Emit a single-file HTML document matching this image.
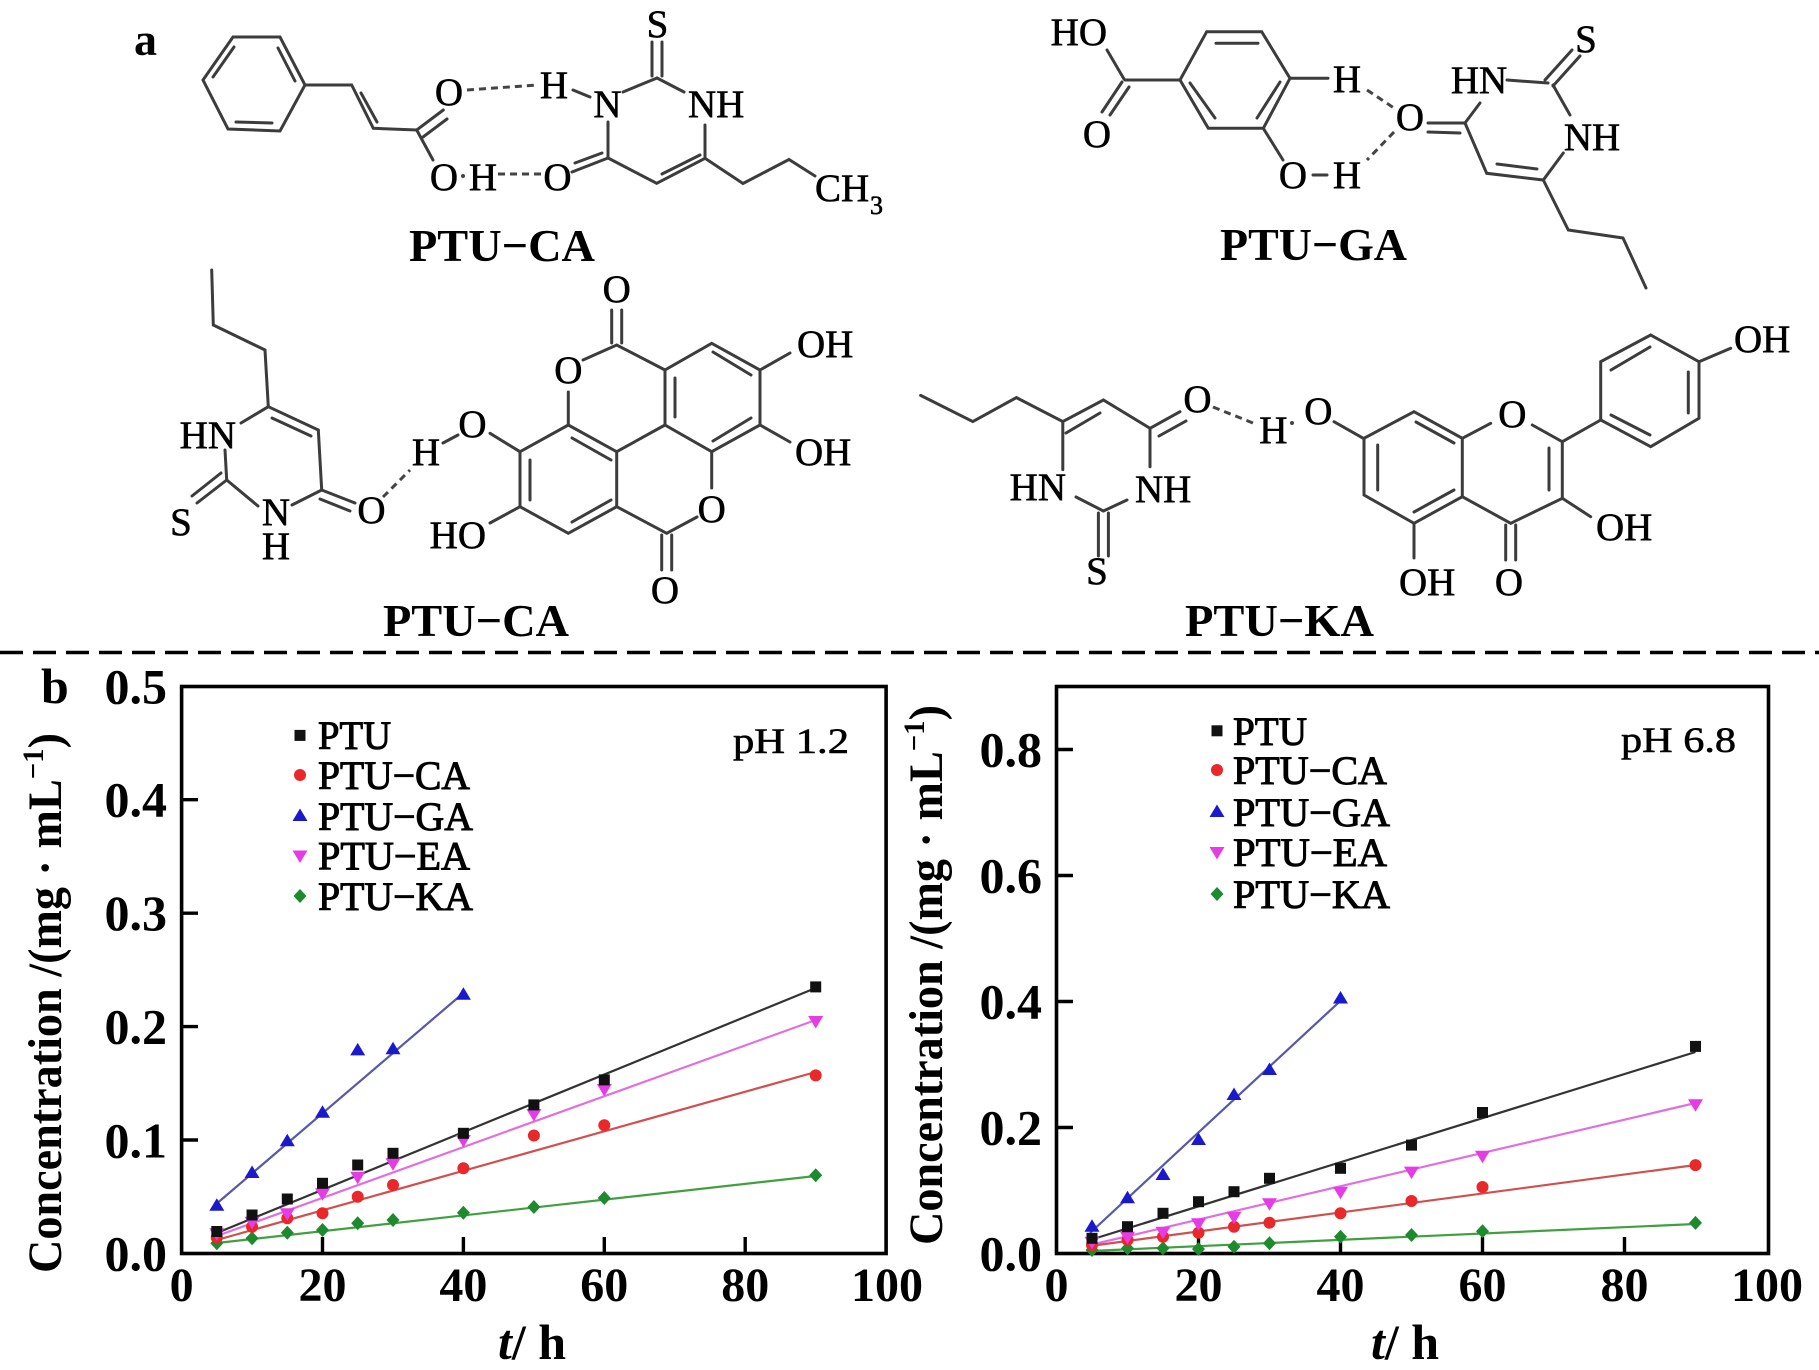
<!DOCTYPE html>
<html><head><meta charset="utf-8">
<style>
html,body{margin:0;padding:0;background:#fff;}
svg{display:block;}
.at{font-family:"Liberation Serif",serif;font-size:39px;fill:#000;stroke:#000;stroke-width:0.6;}
.lbl{font-family:"Liberation Serif",serif;font-size:46px;font-weight:bold;fill:#000;}
.b{stroke:#3c3c3c;stroke-width:3;fill:none;stroke-linecap:round;}
.hb{stroke:#444;stroke-width:3;fill:none;stroke-dasharray:7 5;}
.tk{font-family:"Liberation Serif",serif;font-weight:bold;fill:#000;}
.lg{font-family:"Liberation Serif",serif;font-size:40px;fill:#000;stroke:#000;stroke-width:1;}
.ph{font-family:"Liberation Serif",serif;font-size:36px;fill:#000;stroke:#000;stroke-width:0.6;}
</style></head>
<body>
<svg width="1819" height="1370" viewBox="0 0 1819 1370" xmlns="http://www.w3.org/2000/svg">
<rect x="0" y="0" width="1819" height="1370" fill="#fff"/>
<defs>
<rect id="msq" x="-5.5" y="-5.5" width="11" height="11"/>
<circle id="mci" cx="0" cy="0" r="6"/>
<polygon id="mtu" points="0,-7.5 7.5,5 -7.5,5"/>
<polygon id="mtd" points="-7.5,-5 7.5,-5 0,7.5"/>
<polygon id="mdi" points="0,-7 6.5,0 0,7 -6.5,0"/>
</defs>

<text x="134" y="55" font-family="Liberation Serif" font-weight="bold" font-size="46">a</text>
<text x="41" y="703" font-family="Liberation Serif" font-weight="bold" font-size="50">b</text>

<!-- ===== PTU-CA (top left) ===== -->
<g>
<polygon class="b" points="233,37 280,37 305,85 280,131 228,129 203,80"/>
<line class="b" x1="213" y1="77" x2="234" y2="47"/>
<line class="b" x1="278" y1="48" x2="295" y2="81"/>
<line class="b" x1="272" y1="123" x2="236" y2="122"/>
<polyline class="b" points="305,85 351.7,85 373.3,128.3 416.7,130 443.3,110"/>
<line class="b" x1="361" y1="93" x2="377" y2="122"/>
<line class="b" x1="423" y1="137" x2="447" y2="119"/>
<line class="b" x1="416.7" y1="130" x2="433" y2="160"/>
<text class="at" x="449" y="105" text-anchor="middle">O</text>
<text class="at" x="444" y="190" text-anchor="middle">O</text>
<circle cx="463" cy="176" r="2" fill="#444"/>
<text class="at" x="483" y="190" text-anchor="middle">H</text>
<line class="hb" x1="498" y1="174" x2="542" y2="174"/>
<line class="hb" x1="467" y1="90" x2="537" y2="85"/>
<text class="at" x="554" y="98" text-anchor="middle">H</text>
<line class="b" x1="573" y1="90" x2="590" y2="97"/>
<text class="at" x="607.5" y="117" text-anchor="middle">N</text>
<text class="at" x="657.5" y="37" text-anchor="middle">S</text>
<line class="b" x1="652" y1="42" x2="652" y2="76"/>
<line class="b" x1="662" y1="42" x2="662" y2="76"/>
<line class="b" x1="623" y1="92" x2="657" y2="78"/>
<line class="b" x1="657" y1="78" x2="684" y2="92"/>
<text class="at" x="688" y="117">NH</text>
<line class="b" x1="608" y1="122" x2="608" y2="158"/>
<text class="at" x="557.5" y="190" text-anchor="middle">O</text>
<line class="b" x1="572" y1="172" x2="608" y2="158"/>
<line class="b" x1="575" y1="163" x2="602" y2="153"/>
<polyline class="b" points="608,158 656.7,183.3 705,158.3 705,125"/>
<line class="b" x1="662" y1="174" x2="700" y2="155"/>
<polyline class="b" points="705,158.3 743,183.5 789,159.5 815,176"/>
<text class="at" x="815" y="201">CH</text>
<text class="at" x="870" y="214" style="font-size:26px">3</text>
<text class="lbl" x="409" y="261" textLength="186" lengthAdjust="spacingAndGlyphs">PTU−CA</text>
</g>

<!-- ===== PTU-GA (top right) ===== -->
<g>
<text class="at" x="1107" y="45" text-anchor="end">HO</text>
<line class="b" x1="1107" y1="50" x2="1124" y2="79"/>
<line class="b" x1="1122" y1="82" x2="1102" y2="112"/>
<line class="b" x1="1129" y1="87" x2="1110" y2="115"/>
<text class="at" x="1097" y="147" text-anchor="middle">O</text>
<line class="b" x1="1125" y1="80" x2="1180" y2="80"/>
<polygon class="b" points="1180,80 1206.7,31.7 1261.7,31.7 1290,78.3 1263.3,128.3 1208.3,128.3"/>
<line class="b" x1="1216" y1="43.3" x2="1258" y2="43.3"/>
<line class="b" x1="1190" y1="83" x2="1215" y2="118"/>
<line class="b" x1="1280" y1="82" x2="1257" y2="118"/>
<line class="b" x1="1290" y1="78.3" x2="1328" y2="78.3"/>
<text class="at" x="1347" y="92" text-anchor="middle">H</text>
<line class="b" x1="1263.3" y1="128.3" x2="1283" y2="160"/>
<text class="at" x="1293" y="188" text-anchor="middle">O</text>
<line class="b" x1="1313" y1="175" x2="1327" y2="175"/>
<text class="at" x="1347" y="188" text-anchor="middle">H</text>
<line class="hb" x1="1367" y1="90" x2="1394" y2="108"/>
<line class="hb" x1="1394" y1="132" x2="1367" y2="160"/>
<text class="at" x="1410" y="130" text-anchor="middle">O</text>
<line class="b" x1="1428" y1="123" x2="1465" y2="123"/>
<line class="b" x1="1428" y1="132" x2="1460" y2="133"/>
<line class="b" x1="1465" y1="123" x2="1480" y2="103"/>
<text class="at" x="1479" y="93" text-anchor="middle">HN</text>
<line class="b" x1="1507" y1="80" x2="1548" y2="83"/>
<line class="b" x1="1545" y1="80" x2="1572" y2="50"/>
<line class="b" x1="1553" y1="86" x2="1580" y2="56"/>
<text class="at" x="1586" y="52" text-anchor="middle">S</text>
<line class="b" x1="1553" y1="85" x2="1570" y2="115"/>
<text class="at" x="1592" y="150" text-anchor="middle">NH</text>
<polyline class="b" points="1465,123 1486.7,173.3 1543.3,180 1563.3,153"/>
<line class="b" x1="1497" y1="164" x2="1537" y2="169"/>
<polyline class="b" points="1543.3,180 1568.3,230 1623,238 1646,288"/>
<text class="lbl" x="1220" y="260" textLength="187" lengthAdjust="spacingAndGlyphs">PTU−GA</text>
</g>

<!-- ===== PTU-EA (bottom left) ===== -->
<g>
<polyline class="b" points="211.7,270 213.3,325 265,350 268.3,406.7"/>
<text class="at" x="236" y="448" text-anchor="end">HN</text>
<line class="b" x1="268.3" y1="406.7" x2="241" y2="423"/>
<line class="b" x1="268.3" y1="406.7" x2="318.3" y2="430"/>
<line class="b" x1="272" y1="418" x2="311" y2="436"/>
<line class="b" x1="318.3" y1="430" x2="321.7" y2="490"/>
<line class="b" x1="321.7" y1="490" x2="355" y2="503"/>
<line class="b" x1="320" y1="499" x2="350" y2="511"/>
<text class="at" x="371.5" y="523" text-anchor="middle">O</text>
<line class="b" x1="321.7" y1="490" x2="292" y2="505"/>
<text class="at" x="276" y="525" text-anchor="middle">N</text>
<text class="at" x="276" y="559" text-anchor="middle">H</text>
<line class="b" x1="258" y1="506" x2="226.7" y2="480"/>
<line class="b" x1="226.7" y1="480" x2="225" y2="450"/>
<line class="b" x1="226.7" y1="480" x2="197" y2="503"/>
<line class="b" x1="221" y1="473" x2="192" y2="496"/>
<text class="at" x="181" y="535" text-anchor="middle">S</text>
<line class="hb" x1="383" y1="497" x2="410" y2="470"/>
<text class="at" x="426" y="465" text-anchor="middle">H</text>
<line class="b" x1="443" y1="443" x2="458" y2="435"/>
<text class="at" x="472.5" y="437" text-anchor="middle">O</text>
<line class="b" x1="490" y1="433.3" x2="520" y2="451.7"/>
<polygon class="b" points="568.3,425 616.7,451.7 616.7,506.7 568.3,533.3 520,506.7 520,451.7"/>
<line class="b" x1="572" y1="438" x2="611" y2="460"/>
<line class="b" x1="530" y1="460" x2="530" y2="500"/>
<line class="b" x1="572" y1="522" x2="611" y2="500"/>
<polygon class="b" points="665,425 665,370 711.7,343.3 760,370 760,425 711.7,451.7"/>
<line class="b" x1="675" y1="378" x2="675" y2="417"/>
<line class="b" x1="713" y1="352" x2="751" y2="375"/>
<line class="b" x1="751" y1="418" x2="713" y2="441"/>
<line class="b" x1="616.7" y1="451.7" x2="665" y2="425"/>
<line class="b" x1="568.3" y1="425" x2="568.3" y2="392"/>
<text class="at" x="568.3" y="383" text-anchor="middle">O</text>
<polyline class="b" points="583,360 616.7,345 665,370"/>
<line class="b" x1="611.7" y1="343" x2="611.7" y2="310"/>
<line class="b" x1="621.7" y1="343" x2="621.7" y2="310"/>
<text class="at" x="616.7" y="302" text-anchor="middle">O</text>
<line class="b" x1="711.7" y1="451.7" x2="711.7" y2="488"/>
<text class="at" x="711.7" y="522" text-anchor="middle">O</text>
<polyline class="b" points="697,517 666.7,533.3 616.7,506.7"/>
<line class="b" x1="661.7" y1="535" x2="661.7" y2="570"/>
<line class="b" x1="671.7" y1="535" x2="671.7" y2="570"/>
<text class="at" x="665" y="603" text-anchor="middle">O</text>
<line class="b" x1="760" y1="370" x2="790" y2="353"/>
<text class="at" x="797" y="357">OH</text>
<line class="b" x1="760" y1="425" x2="790" y2="442"/>
<text class="at" x="795" y="465">OH</text>
<line class="b" x1="520" y1="506.7" x2="490" y2="523"/>
<text class="at" x="486" y="548" text-anchor="end">HO</text>
<text class="lbl" x="383" y="636" textLength="186" lengthAdjust="spacingAndGlyphs">PTU−CA</text>
</g>

<!-- ===== PTU-KA (bottom right) ===== -->
<g>
<polyline class="b" points="920.6,395.4 972.8,421.6 1016.4,397.6 1062.8,421.6 1103.4,400 1150,428.3 1150,466.7"/>
<line class="b" x1="1066" y1="433" x2="1100" y2="413"/>
<line class="b" x1="1150" y1="428.3" x2="1180" y2="411.7"/>
<line class="b" x1="1159" y1="436" x2="1186" y2="421"/>
<text class="at" x="1197.5" y="412" text-anchor="middle">O</text>
<text class="at" x="1135" y="502">NH</text>
<line class="b" x1="1127" y1="500" x2="1103.4" y2="511"/>
<line class="b" x1="1103.4" y1="511" x2="1076" y2="497"/>
<text class="at" x="1066" y="500" text-anchor="end">HN</text>
<line class="b" x1="1062.8" y1="469.6" x2="1062.8" y2="421.6"/>
<line class="b" x1="1098.4" y1="513" x2="1098.4" y2="556"/>
<line class="b" x1="1108.4" y1="513" x2="1108.4" y2="556"/>
<text class="at" x="1097" y="584" text-anchor="middle">S</text>
<line class="hb" x1="1213" y1="407" x2="1253" y2="423"/>
<text class="at" x="1273.3" y="443" text-anchor="middle">H</text>
<circle cx="1292" cy="423" r="2" fill="#444"/>
<text class="at" x="1318.3" y="424" text-anchor="middle">O</text>
<line class="b" x1="1334" y1="421.7" x2="1363.3" y2="438.3"/>
<polygon class="b" points="1364,438.3 1414,411.7 1462.3,438.3 1462.3,496.7 1414,523.3 1364,495"/>
<line class="b" x1="1416" y1="422" x2="1454" y2="443"/>
<line class="b" x1="1377.7" y1="445" x2="1377.7" y2="490"/>
<line class="b" x1="1454" y1="490" x2="1414" y2="512"/>
<line class="b" x1="1462.3" y1="438.3" x2="1490.7" y2="423.3"/>
<text class="at" x="1512.3" y="427" text-anchor="middle">O</text>
<polyline class="b" points="1532.3,425 1562.3,441.7 1562.3,498.3 1510.7,523.3 1462.3,496.7"/>
<line class="b" x1="1549" y1="448" x2="1549" y2="490"/>
<line class="b" x1="1505.7" y1="525" x2="1505.7" y2="560"/>
<line class="b" x1="1515.7" y1="525" x2="1515.7" y2="560"/>
<text class="at" x="1509" y="595" text-anchor="middle">O</text>
<line class="b" x1="1562.3" y1="498.3" x2="1590.7" y2="516.7"/>
<text class="at" x="1596" y="540">OH</text>
<line class="b" x1="1414" y1="523.3" x2="1414" y2="558"/>
<text class="at" x="1399" y="595">OH</text>
<line class="b" x1="1562.3" y1="441.7" x2="1600.7" y2="420"/>
<polygon class="b" points="1600.7,420 1600.7,361.7 1650.7,335 1699,361.7 1699,418.3 1650.7,446.7"/>
<line class="b" x1="1611" y1="370" x2="1650" y2="347"/>
<line class="b" x1="1688.3" y1="372" x2="1688.3" y2="413"/>
<line class="b" x1="1650" y1="435" x2="1611" y2="415"/>
<line class="b" x1="1699" y1="361.7" x2="1730.7" y2="348.3"/>
<text class="at" x="1734" y="352">OH</text>
<text class="lbl" x="1185" y="636" textLength="189" lengthAdjust="spacingAndGlyphs">PTU−KA</text>
</g>

<line x1="0" y1="652.5" x2="1819" y2="652.5" stroke="#000" stroke-width="3.5" stroke-dasharray="23 10"/>

<!-- ===== LEFT CHART ===== -->
<g>
<rect x="181.6" y="686.5" width="704.5" height="567" fill="none" stroke="#000" stroke-width="3.6"/>
<g stroke="#000" stroke-width="3.4">
<line x1="181.6" y1="1140" x2="198" y2="1140"/>
<line x1="181.6" y1="1026.6" x2="198" y2="1026.6"/>
<line x1="181.6" y1="913.2" x2="198" y2="913.2"/>
<line x1="181.6" y1="799.7" x2="198" y2="799.7"/>
<line x1="322.5" y1="1253.5" x2="322.5" y2="1237"/>
<line x1="463.4" y1="1253.5" x2="463.4" y2="1237"/>
<line x1="604.3" y1="1253.5" x2="604.3" y2="1237"/>
<line x1="745.2" y1="1253.5" x2="745.2" y2="1237"/>
</g>
<g class="tk" font-size="50" text-anchor="end">
<text x="167" y="1270.5">0.0</text>
<text x="167" y="1157.5">0.1</text>
<text x="167" y="1043.6">0.2</text>
<text x="167" y="930">0.3</text>
<text x="167" y="816.7">0.4</text>
<text x="167" y="703.5">0.5</text>
</g>
<g class="tk" font-size="48" text-anchor="middle">
<text x="181.6" y="1301">0</text>
<text x="322.5" y="1301">20</text>
<text x="463.4" y="1301">40</text>
<text x="604.3" y="1301">60</text>
<text x="745.2" y="1301">80</text>
<text x="887" y="1301">100</text>
</g>
<text class="tk" x="532" y="1359" font-size="50" text-anchor="middle"><tspan font-style="italic">t</tspan>/ h</text>
<text class="tk" transform="translate(61,1003) rotate(-90)" font-size="48" text-anchor="middle" textLength="540" lengthAdjust="spacingAndGlyphs">Concentration /(mg · mL<tspan dy="-18" font-size="30">−1</tspan><tspan dy="18">)</tspan></text>
<text class="ph" x="733" y="753" textLength="116" lengthAdjust="spacingAndGlyphs">pH 1.2</text>
<use href="#msq" x="300" y="735.4" fill="#111"/>
<use href="#mci" x="300" y="775" fill="#e8282a"/>
<use href="#mtu" x="300" y="816" fill="#1a1acc"/>
<use href="#mtd" x="300" y="855.5" fill="#e63ce6"/>
<use href="#mdi" x="300" y="896" fill="#1e8a2e"/>
<text class="lg" x="318" y="749" textLength="73" lengthAdjust="spacingAndGlyphs">PTU</text>
<text class="lg" x="318" y="789" textLength="152" lengthAdjust="spacingAndGlyphs">PTU−CA</text>
<text class="lg" x="318" y="830" textLength="155" lengthAdjust="spacingAndGlyphs">PTU−GA</text>
<text class="lg" x="318" y="869.5" textLength="152" lengthAdjust="spacingAndGlyphs">PTU−EA</text>
<text class="lg" x="318" y="910" textLength="155" lengthAdjust="spacingAndGlyphs">PTU−KA</text>
<g stroke-width="2.2" fill="none">
<line x1="216.8" y1="1203.5" x2="463.4" y2="993" stroke="#5858a8"/>
<line x1="216.8" y1="1233" x2="815.7" y2="988" stroke="#333"/>
<line x1="216.8" y1="1236" x2="815.7" y2="1020" stroke="#e070e0"/>
<line x1="216.8" y1="1240" x2="815.7" y2="1072" stroke="#d05050"/>
<line x1="216.8" y1="1243" x2="815.7" y2="1176" stroke="#40a040"/>
</g>
<g fill="#1a1acc">
<use href="#mtu" x="216.8" y="1205.8"/><use href="#mtu" x="252.05" y="1173"/><use href="#mtu" x="287.3" y="1141.2"/><use href="#mtu" x="322.5" y="1112.8"/><use href="#mtu" x="357.7" y="1050.4"/><use href="#mtu" x="393" y="1049.3"/><use href="#mtu" x="463.4" y="994.8"/>
</g>
<g fill="#1e8a2e">
<use href="#mdi" x="216.8" y="1243.3"/><use href="#mdi" x="252.05" y="1238.3"/><use href="#mdi" x="287.3" y="1232.7"/><use href="#mdi" x="322.5" y="1230"/><use href="#mdi" x="357.7" y="1223.3"/><use href="#mdi" x="393" y="1220"/><use href="#mdi" x="463.4" y="1212.7"/><use href="#mdi" x="533.9" y="1207"/><use href="#mdi" x="604.3" y="1198"/><use href="#mdi" x="815.7" y="1175.2"/>
</g>
<g fill="#e8282a">
<use href="#mci" x="216.8" y="1237.6"/><use href="#mci" x="252.05" y="1226.7"/><use href="#mci" x="287.3" y="1218.3"/><use href="#mci" x="322.5" y="1213.3"/><use href="#mci" x="357.7" y="1196.7"/><use href="#mci" x="393" y="1185"/><use href="#mci" x="463.4" y="1168.3"/><use href="#mci" x="533.9" y="1135.5"/><use href="#mci" x="604.3" y="1125.3"/><use href="#mci" x="815.7" y="1075.4"/>
</g>
<g fill="#e63ce6">
<use href="#mtd" x="216.8" y="1233.3"/><use href="#mtd" x="252.05" y="1221.7"/><use href="#mtd" x="287.3" y="1213.3"/><use href="#mtd" x="322.5" y="1193.3"/><use href="#mtd" x="357.7" y="1176.7"/><use href="#mtd" x="393" y="1163.3"/><use href="#mtd" x="463.4" y="1140"/><use href="#mtd" x="533.9" y="1114"/><use href="#mtd" x="604.3" y="1089"/><use href="#mtd" x="815.7" y="1021"/>
</g>
<g fill="#111">
<use href="#msq" x="216.8" y="1231.5"/><use href="#msq" x="252.05" y="1215"/><use href="#msq" x="287.3" y="1199"/><use href="#msq" x="322.5" y="1183.3"/><use href="#msq" x="357.7" y="1165"/><use href="#msq" x="393" y="1153.3"/><use href="#msq" x="463.4" y="1133.3"/><use href="#msq" x="533.9" y="1104.9"/><use href="#msq" x="604.3" y="1079.9"/><use href="#msq" x="815.7" y="986.9"/>
</g>
</g>

<!-- ===== RIGHT CHART ===== -->
<g>
<rect x="1056.5" y="686.5" width="712" height="567" fill="none" stroke="#000" stroke-width="3.6"/>
<g stroke="#000" stroke-width="3.4">
<line x1="1056.5" y1="1127.5" x2="1073" y2="1127.5"/>
<line x1="1056.5" y1="1001.5" x2="1073" y2="1001.5"/>
<line x1="1056.5" y1="875.5" x2="1073" y2="875.5"/>
<line x1="1056.5" y1="749.5" x2="1073" y2="749.5"/>
<line x1="1198.5" y1="1253.5" x2="1198.5" y2="1237"/>
<line x1="1340.5" y1="1253.5" x2="1340.5" y2="1237"/>
<line x1="1482.5" y1="1253.5" x2="1482.5" y2="1237"/>
<line x1="1624.5" y1="1253.5" x2="1624.5" y2="1237"/>
</g>
<g class="tk" font-size="50" text-anchor="end">
<text x="1042" y="1270.5">0.0</text>
<text x="1042" y="1144.5">0.2</text>
<text x="1042" y="1018.5">0.4</text>
<text x="1042" y="892.5">0.6</text>
<text x="1042" y="766.5">0.8</text>
</g>
<g class="tk" font-size="48" text-anchor="middle">
<text x="1056.5" y="1301">0</text>
<text x="1198.5" y="1301">20</text>
<text x="1340.5" y="1301">40</text>
<text x="1482.5" y="1301">60</text>
<text x="1624.5" y="1301">80</text>
<text x="1767" y="1301">100</text>
</g>
<text class="tk" x="1405" y="1359" font-size="50" text-anchor="middle"><tspan font-style="italic">t</tspan>/ h</text>
<text class="tk" transform="translate(942,975) rotate(-90)" font-size="48" text-anchor="middle" textLength="540" lengthAdjust="spacingAndGlyphs">Concentration /(mg · mL<tspan dy="-18" font-size="30">−1</tspan><tspan dy="18">)</tspan></text>
<text class="ph" x="1621" y="752" textLength="115" lengthAdjust="spacingAndGlyphs">pH 6.8</text>
<use href="#msq" x="1217" y="730.8" fill="#111"/>
<use href="#mci" x="1217" y="770" fill="#e8282a"/>
<use href="#mtu" x="1217" y="812" fill="#1a1acc"/>
<use href="#mtd" x="1217" y="852" fill="#e63ce6"/>
<use href="#mdi" x="1217" y="894" fill="#1e8a2e"/>
<text class="lg" x="1233" y="744.8" textLength="74" lengthAdjust="spacingAndGlyphs">PTU</text>
<text class="lg" x="1233" y="784" textLength="154" lengthAdjust="spacingAndGlyphs">PTU−CA</text>
<text class="lg" x="1233" y="826" textLength="157" lengthAdjust="spacingAndGlyphs">PTU−GA</text>
<text class="lg" x="1233" y="866" textLength="154" lengthAdjust="spacingAndGlyphs">PTU−EA</text>
<text class="lg" x="1233" y="908" textLength="157" lengthAdjust="spacingAndGlyphs">PTU−KA</text>
<g stroke-width="2.2" fill="none">
<line x1="1090" y1="1233" x2="1340.5" y2="1000.8" stroke="#5858a8"/>
<line x1="1090" y1="1240" x2="1695.5" y2="1052" stroke="#333"/>
<line x1="1090" y1="1245" x2="1695.5" y2="1103" stroke="#e070e0"/>
<line x1="1090" y1="1246" x2="1695.5" y2="1165" stroke="#d05050"/>
<line x1="1090" y1="1251" x2="1695.5" y2="1224" stroke="#40a040"/>
</g>
<g fill="#1a1acc">
<use href="#mtu" x="1092" y="1226.7"/><use href="#mtu" x="1127.5" y="1198.3"/><use href="#mtu" x="1163" y="1175"/><use href="#mtu" x="1198.5" y="1140"/><use href="#mtu" x="1234" y="1095"/><use href="#mtu" x="1269.5" y="1070"/><use href="#mtu" x="1340.5" y="998.5"/>
</g>
<g fill="#1e8a2e">
<use href="#mdi" x="1092" y="1250"/><use href="#mdi" x="1127.5" y="1248.3"/><use href="#mdi" x="1163" y="1248.3"/><use href="#mdi" x="1198.5" y="1249"/><use href="#mdi" x="1234" y="1246.7"/><use href="#mdi" x="1269.5" y="1243.3"/><use href="#mdi" x="1340.5" y="1236.7"/><use href="#mdi" x="1411.5" y="1235"/><use href="#mdi" x="1482.5" y="1231.3"/><use href="#mdi" x="1695.5" y="1222.9"/>
</g>
<g fill="#e8282a">
<use href="#mci" x="1092" y="1245"/><use href="#mci" x="1127.5" y="1240"/><use href="#mci" x="1163" y="1236.7"/><use href="#mci" x="1198.5" y="1232.7"/><use href="#mci" x="1234" y="1226.7"/><use href="#mci" x="1269.5" y="1222.7"/><use href="#mci" x="1340.5" y="1213.3"/><use href="#mci" x="1411.5" y="1201"/><use href="#mci" x="1482.5" y="1187"/><use href="#mci" x="1695.5" y="1165.1"/>
</g>
<g fill="#e63ce6">
<use href="#mtd" x="1092" y="1241.7"/><use href="#mtd" x="1127.5" y="1236.7"/><use href="#mtd" x="1163" y="1231.7"/><use href="#mtd" x="1198.5" y="1223.3"/><use href="#mtd" x="1234" y="1216.7"/><use href="#mtd" x="1269.5" y="1203.3"/><use href="#mtd" x="1340.5" y="1191.7"/><use href="#mtd" x="1411.5" y="1171.6"/><use href="#mtd" x="1482.5" y="1155.8"/><use href="#mtd" x="1695.5" y="1104.2"/>
</g>
<g fill="#111">
<use href="#msq" x="1092" y="1238.3"/><use href="#msq" x="1127.5" y="1226.7"/><use href="#msq" x="1163" y="1213.3"/><use href="#msq" x="1198.5" y="1201.7"/><use href="#msq" x="1234" y="1191.7"/><use href="#msq" x="1269.5" y="1178.3"/><use href="#msq" x="1340.5" y="1168.3"/><use href="#msq" x="1411.5" y="1145.1"/><use href="#msq" x="1482.5" y="1112.5"/><use href="#msq" x="1695.5" y="1046.4"/>
</g>
</g>
</svg>
</body></html>
